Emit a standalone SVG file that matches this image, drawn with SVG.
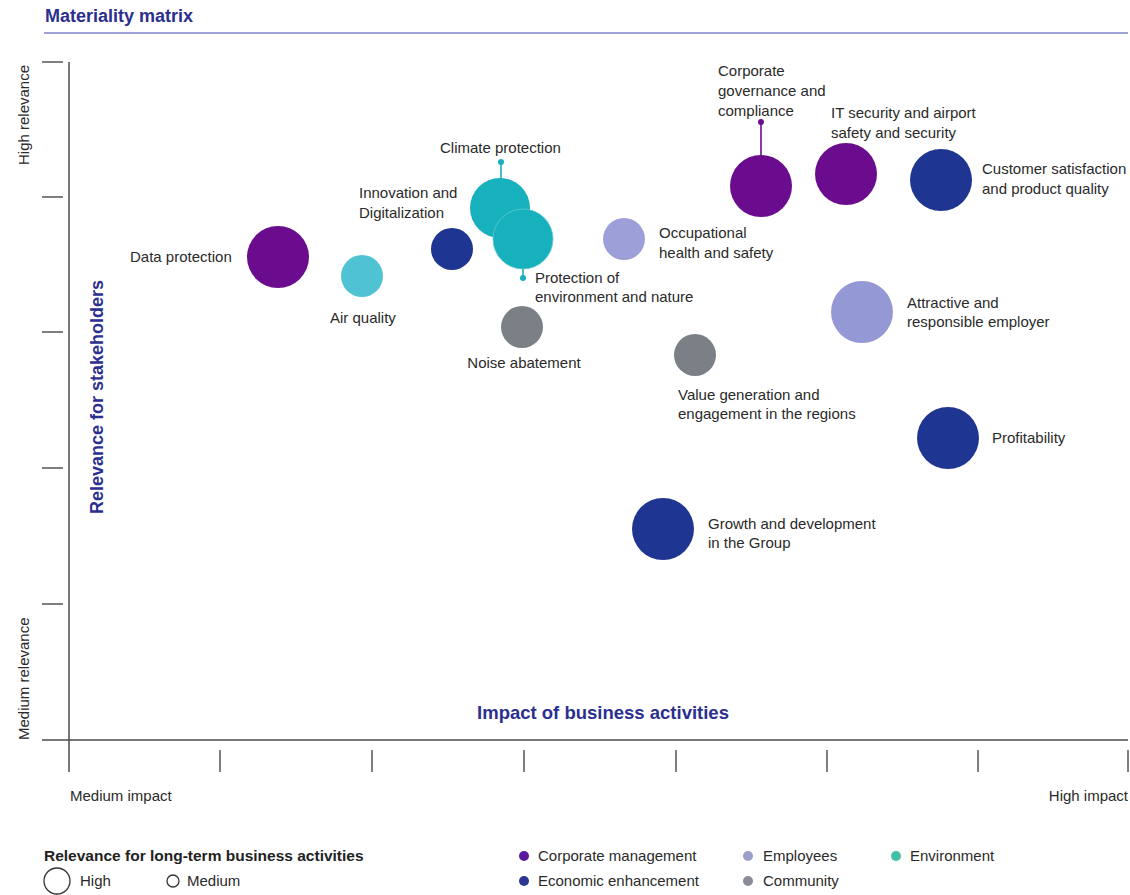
<svg xmlns="http://www.w3.org/2000/svg" width="1130" height="895" viewBox="0 0 1130 895">
<style>
text{font-family:"Liberation Sans",Arial,sans-serif;}
.lbl{font-size:15px;fill:#2a2a2a;}
.ttl{font-size:18px;font-weight:bold;fill:#2b2f8f;}
.ax{stroke:#4a4a4a;stroke-width:1.5;fill:none;}
.tk{stroke:#555;stroke-width:1.5;fill:none;}
.pur{fill:#6a0c8d;}
.dbl{fill:#1f3592;}
.teal{fill:#17b0bd;}
.aqua{fill:#4fc3d4;}
.lpu{fill:#9498d5;}
.gry{fill:#7b7f86;}
.stem{stroke-width:1.6;fill:none;}
</style>
<rect x="0" y="0" width="1130" height="895" fill="#ffffff"/>
<g id="title">
<text x="45" y="22" class="ttl">Materiality matrix</text>
<line x1="44" y1="33" x2="1128" y2="33" stroke="#4146ab" stroke-width="1.2"/>
</g>
<g id="axes">
<line x1="69" y1="62" x2="69" y2="772" class="ax"/>
<line x1="42" y1="740" x2="1128" y2="740" class="ax"/>
<line x1="42" y1="62" x2="63" y2="62" class="tk"/>
<line x1="42" y1="197" x2="63" y2="197" class="tk"/>
<line x1="42" y1="332" x2="63" y2="332" class="tk"/>
<line x1="42" y1="468" x2="63" y2="468" class="tk"/>
<line x1="42" y1="604" x2="63" y2="604" class="tk"/>
<line x1="220" y1="750" x2="220" y2="772" class="tk"/>
<line x1="372" y1="750" x2="372" y2="772" class="tk"/>
<line x1="524" y1="750" x2="524" y2="772" class="tk"/>
<line x1="676" y1="750" x2="676" y2="772" class="tk"/>
<line x1="827" y1="750" x2="827" y2="772" class="tk"/>
<line x1="978" y1="750" x2="978" y2="772" class="tk"/>
<line x1="1128" y1="750" x2="1128" y2="772" class="tk"/>
<text class="lbl" transform="translate(29,165) rotate(-90)">High relevance</text>
<text class="lbl" transform="translate(29,740) rotate(-90)">Medium relevance</text>
<text class="ttl" text-anchor="middle" transform="translate(103,397) rotate(-90)">Relevance for stakeholders</text>
<text class="ttl" x="603" y="719" text-anchor="middle" style="font-size:18.5px">Impact of business activities</text>
<text class="lbl" x="70" y="801">Medium impact</text>
<text class="lbl" x="1128" y="801" text-anchor="end">High impact</text>
</g>
<g id="connectors">
<line x1="501" y1="162" x2="501" y2="180" stroke="#17b0bd" class="stem"/>
<circle cx="501" cy="162" r="3" fill="#17b0bd"/>
<line x1="523" y1="265" x2="523" y2="278" stroke="#17b0bd" class="stem"/>
<circle cx="523" cy="278" r="3" fill="#17b0bd"/>
<line x1="761" y1="122" x2="761" y2="157" stroke="#6a0c8d" class="stem"/>
<circle cx="761" cy="122" r="3" fill="#6a0c8d"/>
</g>
<g id="data-protection">
<circle cx="278" cy="257" r="31" class="pur"/>
<text x="130" y="262" class="lbl">Data protection</text>
</g>
<g id="air-quality">
<circle cx="362" cy="276" r="21" class="aqua"/>
<text x="330" y="323" class="lbl">Air quality</text>
</g>
<g id="innovation">
<circle cx="452" cy="249" r="21" class="dbl"/>
<text x="359" y="198" class="lbl">Innovation and</text>
<text x="359" y="218" class="lbl">Digitalization</text>
</g>
<g id="climate-protection">
<circle cx="500" cy="208" r="30" class="teal"/>
<text x="440" y="153" class="lbl">Climate protection</text>
</g>
<g id="protection-environment">
<circle cx="523" cy="239" r="30" class="teal" stroke="#5fcad3" stroke-width="0.8"/>
<text x="535" y="283" class="lbl">Protection of</text>
<text x="535" y="302" class="lbl">environment and nature</text>
</g>
<g id="occupational-health">
<circle cx="624" cy="239" r="21" class="lpu" style="fill:#9da0d8"/>
<text x="659" y="238" class="lbl">Occupational</text>
<text x="659" y="258" class="lbl">health and safety</text>
</g>
<g id="noise-abatement">
<circle cx="522" cy="327" r="21" class="gry"/>
<text x="524" y="368" class="lbl" text-anchor="middle">Noise abatement</text>
</g>
<g id="value-generation">
<circle cx="695" cy="355" r="21" class="gry"/>
<text x="678" y="400" class="lbl">Value generation and</text>
<text x="678" y="419" class="lbl">engagement in the regions</text>
</g>
<g id="corporate-governance">
<circle cx="761" cy="186" r="31" class="pur"/>
<text x="718" y="76" class="lbl">Corporate</text>
<text x="718" y="96" class="lbl">governance and</text>
<text x="718" y="116" class="lbl">compliance</text>
</g>
<g id="it-security">
<circle cx="846" cy="174" r="31" class="pur"/>
<text x="831" y="118" class="lbl">IT security and airport</text>
<text x="831" y="138" class="lbl">safety and security</text>
</g>
<g id="customer-satisfaction">
<circle cx="941" cy="180" r="31" class="dbl"/>
<text x="982" y="174" class="lbl">Customer satisfaction</text>
<text x="982" y="194" class="lbl">and product quality</text>
</g>
<g id="attractive-employer">
<circle cx="862" cy="312" r="31" class="lpu"/>
<text x="907" y="308" class="lbl">Attractive and</text>
<text x="907" y="327" class="lbl">responsible employer</text>
</g>
<g id="profitability">
<circle cx="948" cy="438" r="31" class="dbl"/>
<text x="992" y="443" class="lbl">Profitability</text>
</g>
<g id="growth">
<circle cx="663" cy="529" r="31" class="dbl"/>
<text x="708" y="529" class="lbl">Growth and development</text>
<text x="708" y="548" class="lbl">in the Group</text>
</g>
<g id="legend">
<text x="44" y="861" style="font-size:15.5px;font-weight:bold;fill:#222">Relevance for long-term business activities</text>
<circle cx="57" cy="881" r="13" fill="none" stroke="#333" stroke-width="1.3"/>
<text x="80" y="886" class="lbl">High</text>
<circle cx="173" cy="881" r="6" fill="none" stroke="#333" stroke-width="1.3"/>
<text x="187" y="886" class="lbl">Medium</text>
<circle cx="524" cy="856" r="5" fill="#5a1a9c"/>
<text x="538" y="861" class="lbl">Corporate management</text>
<circle cx="524" cy="881" r="5" fill="#2b3592"/>
<text x="538" y="886" class="lbl">Economic enhancement</text>
<circle cx="748" cy="856" r="5" fill="#9c9ec8"/>
<text x="763" y="861" class="lbl">Employees</text>
<circle cx="748" cy="881" r="5" fill="#8a8c98"/>
<text x="763" y="886" class="lbl">Community</text>
<circle cx="896" cy="856" r="5" fill="#3fc0a4"/>
<text x="910" y="861" class="lbl">Environment</text>
</g>
</svg>
